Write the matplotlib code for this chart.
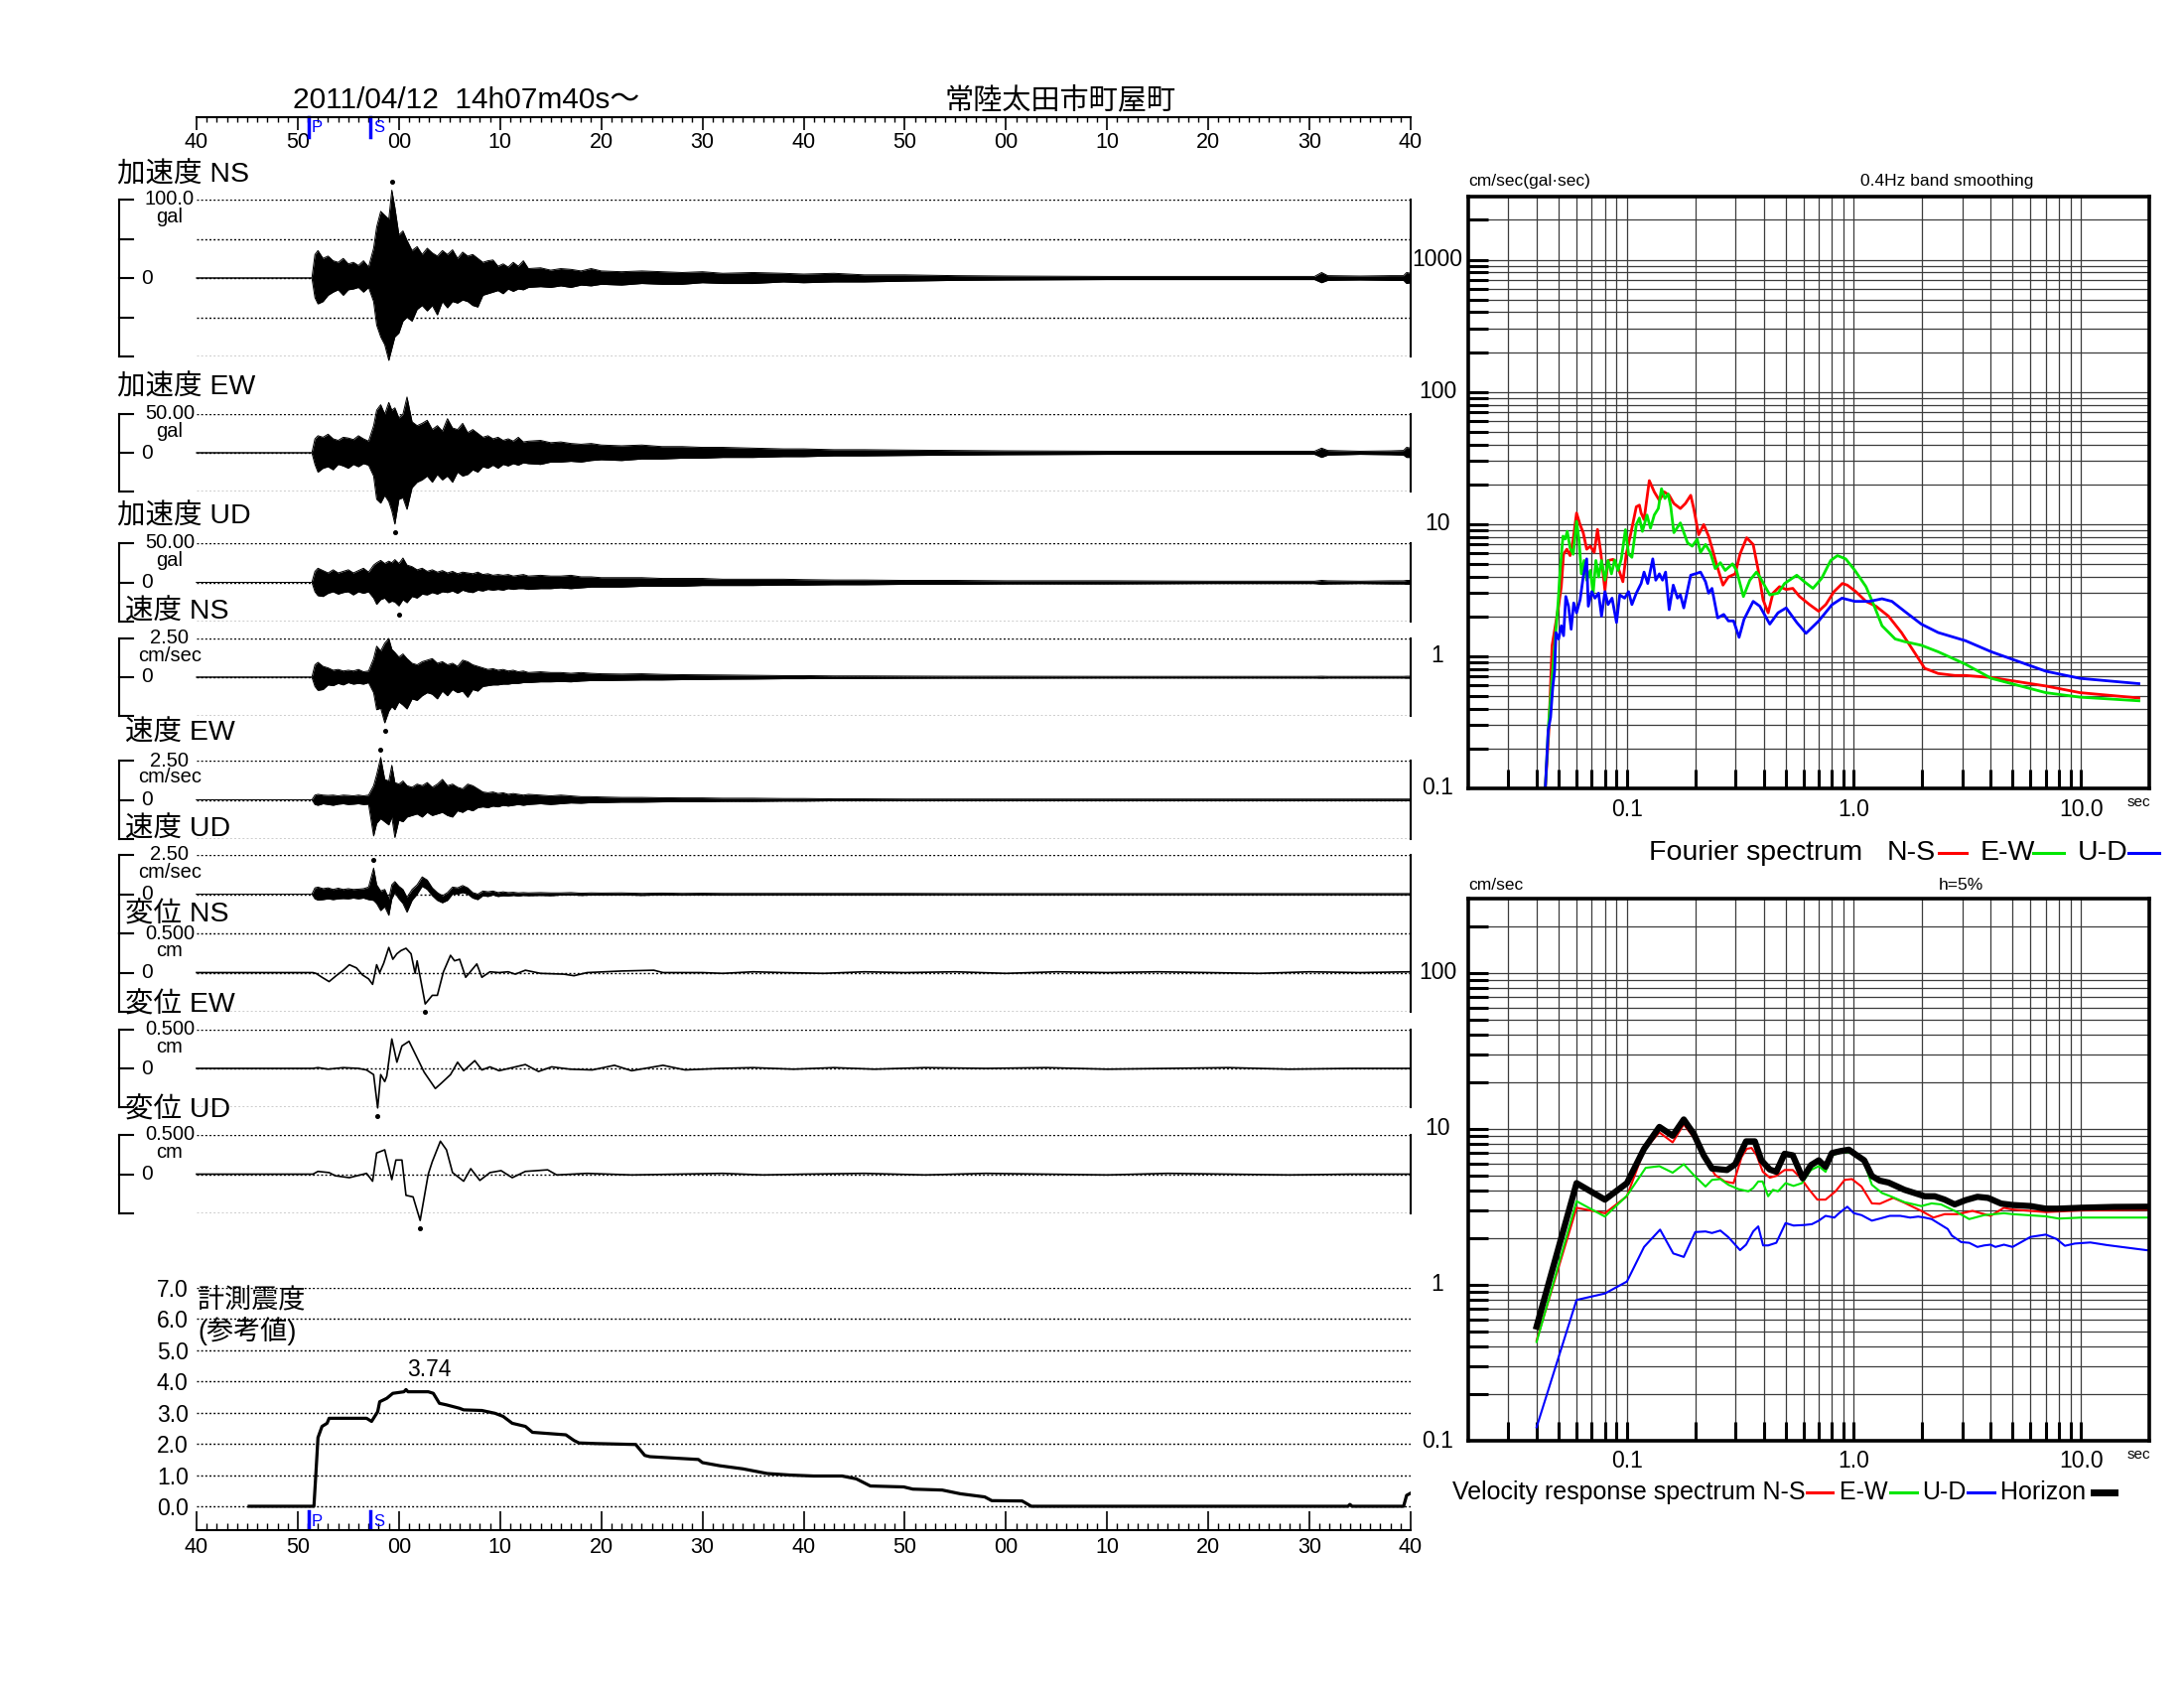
import numpy as np
import matplotlib
matplotlib.use("Agg")
import matplotlib.pyplot as plt
from matplotlib.lines import Line2D
from matplotlib.transforms import offset_copy

plt.rcParams['font.family'] = ['Liberation Sans', 'Noto Sans CJK JP', 'DejaVu Sans']

# ---------------- data ----------------
# time axis: seconds from 14h06m40s, labels every 10 s
time_labels = ["40", "50", "00", "10", "20", "30", "40", "50", "00", "10", "20", "30", "40"]
P_T, S_T = 11.05, 17.2

# common knot times for the acceleration / velocity envelopes (s)
TK = [0, 11.4, 11.7, 12.0, 12.5, 13.0, 13.5, 14.0, 14.5, 15.0, 15.5, 16.0, 16.5, 17.0, 17.5, 17.8, 18.2, 18.6, 19.0, 19.3, 19.6, 20.0, 20.4, 20.8,
      21.3, 21.8, 22.3, 22.8, 23.3, 23.8, 24.3, 24.8, 25.3, 25.8, 26.3, 26.8, 27.3, 27.8, 28.3, 28.8, 29.3, 29.8, 30.3, 30.8, 31.3, 31.8, 32.3, 32.8,
      34, 35, 36, 37, 38, 39, 40,
      42, 44, 46, 48, 50, 52,
      55, 58, 60, 63, 66, 70, 75, 80, 90, 100, 105,
      110.5, 111.2, 111.8, 115, 118, 119.3, 119.6, 120]

acc_ns_up = [0, 0, 30, 35, 25, 28, 22, 20, 25, 18, 20, 16, 22, 14, 38, 65, 85, 80, 75, 112, 90, 55, 60, 48,
             35, 40, 30, 38, 32, 28, 35, 30, 36, 25, 33, 28, 30, 25, 20, 22, 23, 15, 18, 14, 20, 15, 22, 12,
             13, 10, 12, 11, 9, 12, 9,
             8, 9, 8, 7, 8, 6,
             7, 6, 5, 6, 4, 4, 3, 2.5, 2, 2, 2,
             2, 7, 3, 2.5, 3, 3, 7, 6]
acc_ns_lo = [0, 0, -25, -33, -30, -22, -18, -15, -22, -15, -14, -12, -18, -12, -30, -60, -75, -85, -105, -90, -75, -70, -55, -50,
             -55, -40, -35, -42, -35, -47, -30, -38, -30, -32, -28, -30, -35, -37, -22, -20, -18, -16, -20, -14, -17, -14, -15, -12,
             -11, -12, -10, -12, -9, -10, -8,
             -9, -7, -8, -8, -6, -7,
             -7, -5, -6, -5, -5, -4, -3, -2.5, -2, -2, -2,
             -2, -6, -3, -2.5, -3, -3, -7, -6]

acc_ew_up = [0, 0, 18, 22, 20, 24, 18, 16, 20, 19, 17, 22, 18, 15, 35, 55, 62, 50, 65, 55, 58, 45, 50, 72,
             40, 35, 38, 42, 30, 35, 28, 44, 32, 30, 38, 26, 30, 25, 20, 22, 18, 20, 16, 18, 15, 20, 14, 15,
             16, 13, 14, 12, 11, 12, 10,
             9, 10, 8, 8, 7, 7,
             6, 5, 5, 4, 4, 3.5, 3, 2.5, 2, 2, 2,
             2, 6, 3, 2, 2.5, 3, 7, 6]
acc_ew_lo = [0, 0, -15, -25, -20, -18, -22, -15, -17, -20, -15, -18, -14, -16, -30, -60, -65, -55, -63, -75, -92, -60, -58, -73,
             -45, -38, -35, -30, -38, -28, -35, -30, -38, -25, -30, -28, -22, -25, -18, -20, -16, -20, -15, -17, -14, -16, -13, -14,
             -15, -12, -12, -11, -12, -10, -9,
             -10, -8, -8, -7, -7, -6,
             -6, -5, -5, -4, -4, -3.5, -3, -2.5, -2, -2, -2,
             -2, -6, -3, -2, -2.5, -3, -6, -6]

acc_ud_up = [0, 0, 14, 18, 15, 12, 16, 12, 14, 16, 12, 15, 18, 13, 22, 25, 28, 24, 27, 25, 29, 24, 31, 22,
             20, 16, 18, 14, 16, 13, 15, 12, 14, 11, 13, 12, 11, 13, 10, 11, 9, 10, 9, 10, 8, 9, 10, 8,
             9, 8, 8, 9, 7, 7, 6,
             6, 6, 5, 5, 5, 4,
             4, 4, 3.5, 3, 3, 2.5, 2.5, 2, 2, 1.5, 1.5,
             1.5, 2.5, 2, 1.5, 2, 2, 2.5, 2.5]
acc_ud_lo = [0, 0, -12, -17, -18, -14, -12, -15, -13, -12, -16, -12, -14, -12, -20, -28, -22, -20, -26, -24, -25, -30, -22, -26,
             -18, -20, -15, -16, -13, -15, -12, -13, -11, -14, -10, -12, -13, -10, -11, -9, -10, -9, -10, -8, -9, -8, -8, -9,
             -8, -8, -7, -8, -7, -6, -6,
             -6, -5, -5, -5, -4, -4,
             -4, -3.5, -3.5, -3, -3, -2.5, -2.5, -2, -2, -1.5, -1.5,
             -1.5, -2.5, -2, -1.5, -2, -2, -2.5, -2.5]

vel_ns_up = [0, 0, 0.8, 0.96, 0.7, 0.6, 0.45, 0.5, 0.4, 0.45, 0.4, 0.5, 0.35, 0.4, 1.2, 2.0, 1.7, 2.2, 2.5, 1.8, 1.6, 1.3, 1.5, 1.2,
             0.9, 0.8, 1.0, 1.1, 1.2, 0.9, 1.0, 0.8, 0.9, 0.7, 1.1, 1.0, 0.8, 0.7, 0.6, 0.5, 0.55, 0.45, 0.5, 0.4, 0.45, 0.35, 0.4, 0.3,
             0.35, 0.3, 0.3, 0.25, 0.3, 0.25, 0.22,
             0.2, 0.22, 0.18, 0.16, 0.15, 0.14,
             0.12, 0.1, 0.1, 0.08, 0.08, 0.07, 0.06, 0.06, 0.05, 0.05, 0.05,
             0.05, 0.06, 0.05, 0.05, 0.05, 0.05, 0.06, 0.06]
vel_ns_lo = [0, 0, -0.6, -0.85, -0.8, -0.5, -0.55, -0.4, -0.5, -0.35, -0.45, -0.4, -0.45, -0.35, -1.0, -2.1, -2.0, -2.95, -2.2, -1.9, -2.1, -1.6, -1.8, -2.05,
             -1.4, -1.5, -1.2, -1.0, -1.1, -1.4, -0.9, -1.2, -0.8, -1.0, -0.9, -1.3, -0.8, -0.9, -0.6, -0.55, -0.5, -0.5, -0.45, -0.45, -0.4, -0.4, -0.35, -0.35,
             -0.3, -0.3, -0.28, -0.3, -0.25, -0.22, -0.22,
             -0.2, -0.18, -0.18, -0.16, -0.15, -0.13,
             -0.12, -0.1, -0.1, -0.08, -0.08, -0.07, -0.06, -0.06, -0.05, -0.05, -0.05,
             -0.05, -0.06, -0.05, -0.05, -0.05, -0.05, -0.06, -0.06]

vel_ew_up = [0, 0, 0.3, 0.35, 0.3, 0.28, 0.3, 0.25, 0.3, 0.28, 0.25, 0.3, 0.25, 0.3, 0.9, 1.6, 2.7, 1.3, 1.2, 2.2, 1.1, 1.0, 1.2, 0.9,
             0.8, 1.0, 0.9, 1.1, 0.8, 1.0, 1.3, 0.9, 1.0, 0.8, 0.7, 1.0, 0.9, 0.7, 0.5, 0.45, 0.5, 0.4, 0.45, 0.35, 0.4, 0.35, 0.3, 0.35,
             0.3, 0.25, 0.3, 0.25, 0.2, 0.2, 0.18,
             0.15, 0.15, 0.13, 0.12, 0.12, 0.1,
             0.1, 0.08, 0.08, 0.06, 0.06, 0.05, 0.05, 0.05, 0.05, 0.05, 0.05,
             0.05, 0.05, 0.05, 0.05, 0.05, 0.05, 0.05, 0.05]
vel_ew_lo = [0, 0, -0.3, -0.35, -0.25, -0.3, -0.35, -0.28, -0.25, -0.3, -0.28, -0.25, -0.3, -0.28, -2.3, -1.5, -1.2, -1.4, -1.6, -1.1, -2.4, -1.3, -1.4, -1.1,
             -1.0, -0.9, -1.1, -0.8, -1.0, -0.9, -0.8, -1.0, -1.1, -0.7, -0.8, -0.6, -0.7, -0.5, -0.45, -0.5, -0.4, -0.45, -0.35, -0.4, -0.35, -0.3, -0.35, -0.3,
             -0.25, -0.3, -0.25, -0.2, -0.22, -0.18, -0.18,
             -0.15, -0.15, -0.13, -0.12, -0.12, -0.1,
             -0.1, -0.08, -0.08, -0.06, -0.06, -0.05, -0.05, -0.05, -0.05, -0.05, -0.05,
             -0.05, -0.05, -0.05, -0.05, -0.05, -0.05, -0.05, -0.05]

vel_ud_up = [0, 0, 0.4, 0.45, 0.35, 0.4, 0.3, 0.38, 0.3, 0.35, 0.3, 0.32, 0.35, 0.45, 1.66, 0.6, 0.2, 0.3, -0.3, 0.6, 0.8, 0.5, 0.3, -0.2,
             0.3, 0.6, 1.1, 0.9, 0.4, 0.1, -0.1, 0.1, 0.45, 0.4, 0.55, 0.4, 0.1, 0.0, 0.2, 0.15, 0.2, 0.1, 0.15, 0.1, 0.12, 0.08, 0.1, 0.08,
             0.1, 0.08, 0.08, 0.1, 0.06, 0.08, 0.07,
             0.08, 0.05, 0.07, 0.05, 0.06, 0.05,
             0.05, 0.05, 0.05, 0.05, 0.05, 0.05, 0.04, 0.04, 0.04, 0.04, 0.04,
             0.04, 0.04, 0.04, 0.04, 0.04, 0.04, 0.04, 0.04]
vel_ud_lo = [0, 0, -0.3, -0.38, -0.35, -0.3, -0.35, -0.3, -0.28, -0.3, -0.25, -0.3, -0.25, -0.35, -0.4, -0.6, -1.05, -0.8, -1.35, -0.3, 0.1, -0.3, -0.6, -1.15,
             -0.4, 0.0, 0.5, 0.3, -0.1, -0.4, -0.55, -0.4, 0.0, 0.0, 0.1, 0.0, -0.25, -0.35, -0.1, -0.15, -0.05, -0.15, -0.1, -0.12, -0.08, -0.12, -0.08, -0.1,
             -0.08, -0.1, -0.06, -0.05, -0.08, -0.06, -0.06,
             -0.05, -0.08, -0.05, -0.06, -0.05, -0.06,
             -0.05, -0.05, -0.05, -0.05, -0.05, -0.05, -0.04, -0.04, -0.04, -0.04, -0.04,
             -0.04, -0.04, -0.04, -0.04, -0.04, -0.04, -0.04, -0.04]

# displacement traces (cm)
dns_t = [0, 11.5, 11.8, 12.4, 13.1, 13.8, 14.5, 15.1, 15.8, 16.4, 17.0, 17.4, 17.8, 18.1, 18.5, 19.0, 19.4, 19.8, 20.2, 20.7,
         21.2, 21.6, 21.8, 22.6, 23.3, 23.8, 24.4, 25.1, 25.5, 26.0, 26.6, 27.7, 28.2, 29.0, 29.9, 30.8, 31.5, 32.5, 34.0, 36.3,
         37.3, 38.6, 42, 45.2, 46.1, 50, 52, 55, 58, 62, 66, 70, 75, 80, 85, 90, 95, 100, 105, 110, 115, 120]
dns_v = [0, 0, -0.01, -0.06, -0.115, -0.04, 0.03, 0.1, 0.06, -0.03, -0.08, -0.15, 0.1, 0.0, 0.12, 0.32, 0.17, 0.24, 0.28, 0.31,
         0.24, -0.01, 0.15, -0.4, -0.29, -0.29, 0.01, 0.22, 0.15, 0.17, -0.06, 0.11, -0.06, 0.01, 0.0, 0.01, -0.02, 0.03, -0.01, -0.02,
         -0.04, 0.0, 0.02, 0.03, 0.0, 0.0, -0.01, 0.01, 0.0, -0.01, 0.01, 0.0, 0.01, -0.01, 0.01, 0.0, 0.01, 0.0, -0.01, 0.01, 0.0, 0.01]
dew_t = [0, 11.5, 12.0, 13.0, 14.5, 16.0, 16.8, 17.5, 17.9, 18.2, 18.6, 18.8, 19.3, 19.8, 20.3, 21.0, 21.6, 22.5, 23.6, 24.2,
         25.1, 25.8, 26.4, 27.5, 28.2, 29.0, 29.9, 32.5, 33.8, 35.1, 36.9, 39.1, 41.3, 43.0, 46.1, 48.3, 51.7, 55, 59, 63,
         67, 72, 78, 84, 90, 96, 102, 108, 114, 120]
dew_v = [0, 0, 0.01, -0.01, 0.01, 0.0, -0.02, -0.08, -0.51, -0.08, -0.17, -0.1, 0.38, 0.08, 0.29, 0.35, 0.19, -0.05, -0.26, -0.19,
         -0.08, 0.08, -0.03, 0.1, -0.02, 0.02, -0.03, 0.05, -0.04, 0.02, -0.01, -0.02, 0.04, -0.03, 0.04, -0.02, 0.0, 0.01, -0.01, 0.01,
         -0.01, 0.01, 0.0, 0.01, -0.01, 0.0, 0.01, -0.01, 0.0, 0.0]
dud_t = [0, 11.5, 12.0, 13.1, 13.7, 15.1, 16.8, 17.4, 17.8, 18.6, 19.3, 19.7, 20.3, 20.7, 21.4, 22.1, 22.9, 23.3, 24.1, 24.7,
         25.3, 26.4, 27.1, 28.0, 29.0, 30.1, 31.2, 32.5, 34.7, 35.6, 38.6, 43.0, 47.4, 52, 56, 60, 66, 72, 78, 84,
         90, 96, 102, 108, 114, 120]
dud_v = [0, 0, 0.035, 0.02, -0.02, -0.045, 0.01, -0.09, 0.27, 0.31, -0.07, 0.18, 0.18, -0.27, -0.29, -0.59, 0.0, 0.16, 0.42, 0.31,
         0.02, -0.09, 0.07, -0.08, 0.02, 0.045, -0.045, 0.035, 0.055, -0.01, 0.01, -0.01, 0.0, 0.01, -0.01, 0.0, 0.01, -0.01, 0.01, 0.0,
         -0.01, 0.01, 0.0, -0.01, 0.0, 0.0]

# maximum-amplitude markers (time, value) per trace
peak_t = [19.3, 19.6, 20.0, 18.6, 18.2, 17.5, 22.6, 17.9, 22.1]
peak_v = [112, -92, -30, -2.95, 2.7, 1.66, -0.4, -0.51, -0.59]

# seismic intensity (計測震度)
int_t = [5.2, 11.6, 11.8, 12.0, 12.4, 12.9, 13.1, 16.8, 17.3, 17.9, 18.1, 18.8, 19.4, 20.5, 20.7, 20.9, 22.9, 23.4, 24.0, 24.7,
         26.0, 26.4, 28.2, 29.5, 30.3, 31.2, 32.5, 33.2, 36.5, 37.3, 37.8, 39.5, 43.4, 44.3, 44.8, 49.6, 50.0, 51.7, 54.0, 56.4,
         58.7, 61.0, 63.8, 65.2, 66.6, 69.9, 70.8, 73.7, 75.5, 77.9, 78.6, 81.6, 82.5, 113.8, 114.0, 114.2, 119.3, 119.6, 120]
int_v = [0, 0, 1.08, 2.2, 2.56, 2.66, 2.82, 2.82, 2.72, 3.03, 3.35, 3.46, 3.62, 3.67, 3.74, 3.67, 3.67, 3.62, 3.3, 3.25,
         3.14, 3.09, 3.07, 2.98, 2.88, 2.66, 2.56, 2.37, 2.29, 2.11, 2.03, 2.01, 1.98, 1.63, 1.59, 1.5, 1.4, 1.3, 1.2, 1.05,
         1.0, 0.97, 0.97, 0.88, 0.65, 0.62, 0.55, 0.52, 0.40, 0.30, 0.18, 0.17, 0.0, 0.0, 0.06, 0.0, 0.0, 0.35, 0.42]
int_max = 3.74
int_ticks = [0, 1, 2, 3, 4, 5, 6, 7]

# Fourier spectra (period s, cm/sec)
T_ns_f = [0.0437, 0.0453, 0.0468, 0.050, 0.0514, 0.0526, 0.0544, 0.0562, 0.058, 0.060, 0.0622, 0.0642, 0.0665, 0.069, 0.0718,
          0.0742, 0.0767, 0.080, 0.0826, 0.0869, 0.0914, 0.096, 0.0993, 0.1045, 0.110, 0.1135, 0.1155, 0.119, 0.1255, 0.132,
          0.139, 0.146, 0.1535, 0.161, 0.172, 0.181, 0.191, 0.197, 0.207, 0.218, 0.229, 0.237, 0.249, 0.265, 0.28,
          0.30, 0.315, 0.337, 0.36, 0.379, 0.398, 0.419, 0.44, 0.47, 0.503, 0.538, 0.576, 0.637, 0.699, 0.752,
          0.817, 0.889, 0.935, 1.02, 1.13, 1.25, 1.42, 1.62, 1.86, 2.05, 2.35, 2.78, 3.1, 4.03, 7.0, 9.9, 18.0]
A_ns_f = [0.1, 0.275, 1.2, 2.4, 3.36, 5.93, 6.45, 5.77, 7.67, 12.1, 9.87, 8.6, 6.45, 6.8, 6.1,
          9.1, 6.1, 3.17, 5.3, 5.4, 4.7, 3.66, 5.93, 8.8, 13.5, 13.9, 12.1, 10.8, 21.3, 17.5,
          15.1, 17.5, 16.5, 14.3, 13.1, 14.3, 16.5, 13.1, 8.3, 9.9, 8.1, 6.6, 4.86, 3.45, 3.98,
          4.2, 5.93, 7.87, 7.0, 4.46, 2.67, 2.13, 3.0, 3.36, 3.2, 3.26, 2.83, 2.46, 2.19, 2.46,
          3.08, 3.55, 3.45, 3.08, 2.6, 2.39, 2.01, 1.51, 1.05, 0.81, 0.74, 0.715, 0.715, 0.69, 0.595, 0.53, 0.483]
T_ew_f = [0.0437, 0.0452, 0.0468, 0.0484, 0.0497, 0.0509, 0.0523, 0.0535, 0.0546, 0.0562, 0.058, 0.060, 0.0616, 0.063, 0.0648,
          0.0665, 0.069, 0.071, 0.073, 0.075, 0.0773, 0.080, 0.0826, 0.0855, 0.0883, 0.0914, 0.0945, 0.0985, 0.1017, 0.1052,
          0.110, 0.1135, 0.117, 0.1226, 0.127, 0.132, 0.1375, 0.142, 0.147, 0.152, 0.156, 0.161, 0.172, 0.185, 0.194,
          0.204, 0.211, 0.222, 0.233, 0.245, 0.258, 0.271, 0.292, 0.304, 0.326, 0.348, 0.372, 0.385, 0.426, 0.463,
          0.495, 0.56, 0.605, 0.66, 0.72, 0.79, 0.846, 0.92, 1.01, 1.13, 1.23, 1.33, 1.52, 1.67, 1.98,
          2.35, 3.1, 4.03, 7.0, 9.9, 18.0]
A_ew_f = [0.1, 0.31, 0.68, 1.43, 2.45, 4.7, 8.1, 7.7, 8.8, 6.6, 5.9, 10.5, 7.4, 4.2, 5.3,
          3.76, 4.46, 3.0, 5.3, 3.98, 5.3, 3.76, 5.3, 4.2, 5.35, 4.46, 5.45, 9.06, 5.93, 5.6,
          9.9, 11.1, 8.8, 11.7, 9.3, 11.7, 13.1, 18.5, 15.6, 16.9, 13.5, 8.6, 10.2, 7.2, 6.8,
          7.67, 6.1, 7.0, 6.1, 4.6, 5.1, 4.46, 5.0, 4.46, 2.83, 3.76, 4.33, 3.98, 2.91, 3.0,
          3.55, 4.1, 3.66, 3.26, 3.87, 5.3, 5.77, 5.45, 4.46, 3.36, 2.39, 1.7, 1.35, 1.29, 1.21,
          1.08, 0.87, 0.68, 0.53, 0.49, 0.46]
T_ud_f = [0.0437, 0.045, 0.0461, 0.0471, 0.048, 0.0487, 0.050, 0.0514, 0.0526, 0.0538, 0.0553, 0.0568, 0.0583, 0.060, 0.0622,
          0.0642, 0.0665, 0.0676, 0.070, 0.0723, 0.075, 0.0773, 0.080, 0.0826, 0.086, 0.090, 0.093, 0.0977, 0.1017, 0.1052,
          0.110, 0.1155, 0.119, 0.1235, 0.130, 0.134, 0.139, 0.1435, 0.148, 0.1535, 0.160, 0.167, 0.172, 0.178, 0.191,
          0.2, 0.211, 0.222, 0.229, 0.237, 0.251, 0.267, 0.28, 0.295, 0.312, 0.328, 0.36, 0.385, 0.426, 0.463,
          0.503, 0.56, 0.615, 0.70, 0.80, 0.886, 1.01, 1.17, 1.33, 1.47, 1.67, 1.98, 2.35, 3.1, 4.03,
          7.0, 9.9, 18.0]
A_ud_f = [0.1, 0.275, 0.345, 0.576, 0.765, 1.51, 1.35, 1.7, 1.43, 2.83, 2.39, 1.6, 2.53, 2.13, 2.67,
          3.98, 5.45, 2.39, 3.08, 2.75, 3.0, 2.01, 3.08, 2.46, 2.75, 1.8, 2.91, 2.75, 3.08, 2.46,
          3.0, 3.55, 4.33, 3.55, 5.45, 3.76, 4.2, 3.76, 4.33, 2.25, 3.45, 2.75, 2.91, 2.32, 4.1,
          4.2, 4.33, 3.66, 3.0, 3.26, 1.95, 2.07, 1.85, 1.85, 1.39, 1.9, 2.6, 2.39, 1.75, 2.13,
          2.32, 1.8, 1.49, 1.85, 2.45, 2.75, 2.6, 2.6, 2.72, 2.6, 2.19, 1.75, 1.51, 1.31, 1.08,
          0.77, 0.68, 0.62]

# velocity response spectra, h=5% (period s, cm/sec)
T_h = [0.04, 0.06, 0.08, 0.1, 0.119, 0.139, 0.159, 0.178, 0.197, 0.218, 0.237, 0.276, 0.3, 0.335, 0.366, 0.391,
       0.426, 0.455, 0.495, 0.538, 0.595, 0.646, 0.70, 0.75, 0.80, 0.87, 0.95, 1.03, 1.11, 1.20, 1.30, 1.42,
       1.67, 2.05, 2.27, 2.51, 2.78, 3.1, 3.5, 3.9, 4.45, 5.0, 6.0, 7.0, 8.0, 10.0, 14.0, 20.0]
A_h = [0.54, 4.49, 3.52, 4.49, 7.45, 10.3, 9.04, 11.5, 9.3, 6.76, 5.57, 5.45, 5.94, 8.32, 8.32, 6.29,
       5.49, 5.31, 6.93, 6.77, 4.82, 5.85, 6.29, 5.72, 7.0, 7.2, 7.36, 6.77, 6.29, 4.99, 4.66, 4.53,
       4.07, 3.70, 3.70, 3.52, 3.28, 3.49, 3.67, 3.61, 3.32, 3.25, 3.2, 3.08, 3.08, 3.12, 3.16, 3.17]
T_ns_r = [0.04, 0.06, 0.08, 0.1, 0.119, 0.139, 0.159, 0.178, 0.197, 0.218, 0.245, 0.27, 0.295, 0.32, 0.337,
          0.354, 0.373, 0.397, 0.426, 0.455, 0.495, 0.538, 0.585, 0.636, 0.69, 0.75, 0.83, 0.91, 0.98, 1.08,
          1.20, 1.30, 1.49, 1.67, 1.98, 2.24, 2.51, 2.86, 3.33, 4.0, 4.58, 5.0, 7.0, 10.0, 20.0]
A_ns_r = [0.44, 3.12, 2.88, 3.7, 7.3, 9.5, 8.2, 10.7, 8.8, 6.6, 5.06, 4.6, 4.49, 6.6, 7.45,
          7.55, 6.77, 5.31, 4.87, 5.0, 5.45, 5.45, 4.82, 4.07, 3.52, 3.52, 3.98, 4.71, 4.77, 4.27,
          3.33, 3.31, 3.61, 3.36, 2.98, 2.70, 2.84, 2.84, 2.98, 2.77, 3.12, 3.04, 2.93, 3.0, 3.04]
T_ew_r = [0.04, 0.06, 0.08, 0.1, 0.121, 0.139, 0.159, 0.178, 0.197, 0.222, 0.237, 0.258, 0.28, 0.31, 0.343,
          0.36, 0.379, 0.396, 0.419, 0.44, 0.463, 0.5, 0.542, 0.59, 0.646, 0.70, 0.75, 0.80, 0.886, 0.95,
          1.03, 1.11, 1.20, 1.33, 1.47, 1.67, 1.98, 2.2, 2.42, 2.78, 3.22, 3.75, 4.58, 5.0, 7.0, 8.0, 10.0, 20.0]
A_ew_r = [0.43, 3.44, 2.74, 3.73, 5.63, 5.77, 5.24, 5.94, 5.06, 4.27, 4.71, 4.77, 4.38, 4.11, 3.98,
          4.18, 4.6, 4.6, 3.7, 4.07, 3.98, 4.49, 4.31, 4.49, 5.45, 5.77, 5.31, 6.77, 7.1, 7.1,
          6.77, 6.1, 4.38, 3.88, 3.67, 3.39, 3.2, 3.33, 3.28, 2.98, 2.64, 2.8, 2.88, 2.84, 2.75, 2.66, 2.7, 2.7]
T_ud_r = [0.04, 0.06, 0.08, 0.1, 0.119, 0.14, 0.16, 0.178, 0.2, 0.222, 0.237, 0.258, 0.28, 0.315, 0.335,
          0.36, 0.379, 0.398, 0.419, 0.455, 0.5, 0.542, 0.605, 0.653, 0.70, 0.75, 0.82, 0.86, 0.935, 1.0,
          1.08, 1.2, 1.3, 1.44, 1.6, 1.77, 1.92, 2.05, 2.2, 2.39, 2.59, 2.7, 2.97, 3.22, 3.5,
          3.75, 4.0, 4.2, 4.58, 5.0, 6.0, 7.0, 7.8, 8.5, 9.4, 11.0, 13.0, 20.0]
A_ud_r = [0.122, 0.80, 0.88, 1.05, 1.75, 2.26, 1.59, 1.51, 2.18, 2.2, 2.15, 2.23, 2.02, 1.67, 1.81,
          2.2, 2.37, 1.79, 1.79, 1.86, 2.49, 2.4, 2.42, 2.45, 2.58, 2.77, 2.7, 2.88, 3.17, 2.88,
          2.8, 2.58, 2.66, 2.77, 2.77, 2.7, 2.74, 2.7, 2.64, 2.45, 2.28, 2.07, 1.88, 1.86, 1.75,
          1.79, 1.81, 1.75, 1.81, 1.75, 2.03, 2.1, 1.97, 1.78, 1.84, 1.87, 1.8, 1.66]

RED, GREEN, BLUE = "#ff0000", "#00e600", "#0000ff"

# ---------------- figure ----------------
W, H = 2200, 1700
fig = plt.figure(figsize=(22, 17), dpi=100)


def box(left, top, right, bottom):
    # axes placed by pixel edges (top-left origin)
    return fig.add_axes([left / W, 1 - bottom / H, (right - left) / W, (bottom - top) / H])


def ftext(x, y, s, **kw):
    kw.setdefault("va", "center")
    return fig.text(x / W, 1 - y / H, s, **kw)


def fline(x0, x1, y, color, lw):
    fig.add_artist(Line2D([x0 / W, x1 / W], [1 - y / H, 1 - y / H], color=color, lw=lw,
                          transform=fig.transFigure))


X0, X1 = 198, 1421
DOT = (0, (1.4, 1.6))

# header
ftext(295, 101, "2011/04/12  14h07m40s〜", fontsize=21.5)
ftext(951, 101, "常陸太田市町屋町", fontsize=21)

# top time axis
ax_top = box(X0, 80, X1, 118)
ax_top.set_xlim(0, 120)
for k in ["top", "left", "right"]:
    ax_top.spines[k].set_visible(False)
ax_top.spines["bottom"].set_linewidth(1.5)
ax_top.set_yticks([])
ax_top.set_xticks(range(0, 121, 10))
ax_top.set_xticks(range(0, 121), minor=True)
ax_top.set_xticklabels(time_labels, fontsize=15.5)
ax_top.tick_params(axis="x", which="major", direction="out", length=9, width=1.2, pad=1.5)
ax_top.tick_params(axis="x", which="minor", direction="out", length=3.6, width=1.0)
ax_top.patch.set_alpha(0)
for tt, lab in [(P_T, "P"), (S_T, "S")]:
    ax_top.plot([tt, tt], [0, -0.53], color=BLUE, lw=2.5, transform=ax_top.get_xaxis_transform(), clip_on=False)
    ax_top.text(tt + 0.25, -0.27, lab, color=BLUE, fontsize=12, ha="left", va="center",
                transform=ax_top.get_xaxis_transform())

# waveform panels
panels = [
    ("加速度 NS", "100.0", "gal", 118, 176, 201, 359, 100),
    ("加速度 EW", "50.00", "gal", 118, 390, 417, 495, 50),
    ("加速度 UD", "50.00", "gal", 118, 520, 547, 626, 50),
    ("速度 NS", "2.50", "cm/sec", 126, 617, 643, 721, 2.5),
    ("速度 EW", "2.50", "cm/sec", 126, 739, 766, 845, 2.5),
    ("速度 UD", "2.50", "cm/sec", 126, 836, 861, 940, 2.5),
    ("変位 NS", "0.500", "cm", 126, 921, 940, 1019, 0.5),
    ("変位 EW", "0.500", "cm", 126, 1012, 1037, 1115, 0.5),
    ("変位 UD", "0.500", "cm", 126, 1118, 1143, 1222, 0.5),
]
bands = [(acc_ns_up, acc_ns_lo), (acc_ew_up, acc_ew_lo), (acc_ud_up, acc_ud_lo),
         (vel_ns_up, vel_ns_lo), (vel_ew_up, vel_ew_lo), (vel_ud_up, vel_ud_lo)]
lines = [(dns_t, dns_v), (dew_t, dew_v), (dud_t, dud_v)]

xb = (120 - X0) / (X1 - X0)
xt = (134 - X0) / (X1 - X0)
for i, (name, top_lab, unit, lx, ly, top, bot, lim) in enumerate(panels):
    ax = box(X0, top, X1, bot)
    ax.set_xlim(0, 120)
    ax.set_ylim(-lim, lim)
    ax.axis("off")
    levels = [-lim, -lim / 2, 0, lim / 2, lim] if i == 0 else [-lim, 0, lim]
    for v in levels:
        ax.axhline(v, color="k", lw=1.0, ls=DOT)
    ax.plot([120, 120], [-lim, lim], color="k", lw=1.5, clip_on=False)
    tr = ax.get_yaxis_transform()
    ax.plot([xb, xb], [-lim, lim], color="k", lw=1.5, transform=tr, clip_on=False)
    for v in levels:
        ax.plot([xb, xt], [v, v], color="k", lw=1.5, transform=tr, clip_on=False)

    if i < 6:
        up, lo = bands[i]
        ax.fill_between(TK, lo, up, color="k", lw=0, clip_on=False)
        ax.plot(TK, up, color="k", lw=0.7, clip_on=False)
        ax.plot(TK, lo, color="k", lw=0.7, clip_on=False)
    else:
        t, v = lines[i - 6]
        ax.plot(t, v, color="k", lw=1.2, clip_on=False)

    pv = peak_v[i]
    off = offset_copy(ax.transData, fig=fig, x=0, y=6 if pv > 0 else -6, units="points")
    ax.plot([peak_t[i]], [pv], "o", color="k", ms=2.6, transform=off, clip_on=False)

    ftext(lx, ly, name, fontsize=20.5, ha="left")
    ftext(171, top, top_lab, fontsize=14.5, ha="center")
    ftext(171, top + 17, unit, fontsize=14.5, ha="center")
    ftext(148, (top + bot) / 2, "0", fontsize=15, ha="center")

# intensity panel + bottom time axis
ax_i = box(X0, 1297, X1, 1541)
ax_i.set_xlim(0, 120)
ax_i.set_ylim(-0.764, 7.0)
for k in ["top", "left", "right"]:
    ax_i.spines[k].set_visible(False)
ax_i.spines["bottom"].set_linewidth(1.5)
for v in int_ticks:
    ax_i.axhline(v, color="k", lw=1.0, ls=DOT)
ax_i.set_yticks(int_ticks)
ax_i.set_yticklabels([f"{v:.1f}" for v in int_ticks], fontsize=16.5)
ax_i.tick_params(axis="y", length=0, pad=6)
ax_i.set_xticks(range(0, 121, 10))
ax_i.set_xticks(range(0, 121), minor=True)
ax_i.set_xticklabels(time_labels, fontsize=15.5)
ax_i.tick_params(axis="x", which="major", direction="in", length=13.7, width=1.2, pad=5)
ax_i.tick_params(axis="x", which="minor", direction="in", length=5, width=1.0)
ax_i.plot(int_t, int_v, color="k", lw=2.3)
ax_i.text(23.0, 4.39, f"{int_max:.2f}", fontsize=16.5, ha="center", va="center")
for tt, lab in [(P_T, "P"), (S_T, "S")]:
    ax_i.plot([tt, tt], [0, 0.078], color=BLUE, lw=2.5, transform=ax_i.get_xaxis_transform())
    ax_i.text(tt + 0.25, 0.035, lab, color=BLUE, fontsize=12, ha="left", va="center",
              transform=ax_i.get_xaxis_transform())
ftext(199, 1310, "計測震度", fontsize=19.5, ha="left")
ftext(199, 1341, "(参考値)", fontsize=19.5, ha="left")


# spectrum panels
def spectrum_panel(top, bottom, ymax, ylabels):
    ax = box(1479, top, 2165, bottom)
    ax.set_xscale("log")
    ax.set_yscale("log")
    ax.set_xlim(0.02, 20)
    ax.set_ylim(0.1, ymax)
    hpx = bottom - top
    for s in ax.spines.values():
        s.set_linewidth(2.6)
        s.set_zorder(5)
    ax.minorticks_off()
    ax.tick_params(which="both", length=0, labelleft=False, labelbottom=False)
    gx = [m * d for d in (0.01, 0.1, 1.0) for m in range(1, 10) if m * d > 0.0201] + [10.0]
    gy = [m * d for d in (0.1, 1, 10, 100, 1000) for m in range(1, 10) if m * d < ymax * 0.99]
    for x in gx:
        ax.axvline(x, color="#3c3c3c", lw=0.9, zorder=1)
    for y in gy:
        ax.axhline(y, color="#3c3c3c", lw=0.9, zorder=1)
    ax.vlines(gx, 0, 19 / hpx, transform=ax.get_xaxis_transform(), color="k", lw=2.2, zorder=2)
    ax.hlines(gy, 0, 20 / 686, transform=ax.get_yaxis_transform(), color="k", lw=2.2, zorder=2)
    for x, s in [(0.1, "0.1"), (1.0, "1.0"), (10.0, "10.0")]:
        ax.text(x, -21 / hpx, s, transform=ax.get_xaxis_transform(), ha="center", va="center", fontsize=16.5)
    for y, s in ylabels:
        ax.text(-31 / 686, y, s, transform=ax.get_yaxis_transform(), ha="center", va="center", fontsize=16.5)
    return ax


ax_f = spectrum_panel(198, 794, 3000, [(0.1, "0.1"), (1, "1"), (10, "10"), (100, "100"), (1000, "1000")])
ax_f.plot(T_ns_f, A_ns_f, color=RED, lw=2.0, zorder=3)
ax_f.plot(T_ew_f, A_ew_f, color=GREEN, lw=2.0, zorder=3)
ax_f.plot(T_ud_f, A_ud_f, color=BLUE, lw=2.0, zorder=3)
ftext(1479, 182, "cm/sec(gal·sec)", fontsize=12.5, ha="left")
ftext(1874, 182, "0.4Hz band smoothing", fontsize=12.5, ha="left")
ftext(2154, 808, "sec", fontsize=11, ha="center")

ftext(1661, 859, "Fourier spectrum", fontsize=20.5, ha="left")
ftext(1901, 859, "N-S", fontsize=20.5, ha="left")
fline(1953, 1981, 859, RED, 2.2)
ftext(1995, 859, "E-W", fontsize=20.5, ha="left")
fline(2048, 2079, 859, GREEN, 2.2)
ftext(2093, 859, "U-D", fontsize=20.5, ha="left")
fline(2144, 2175, 859, BLUE, 2.2)

ax_r = spectrum_panel(905, 1451, 300, [(0.1, "0.1"), (1, "1"), (10, "10"), (100, "100")])
ax_r.plot(T_ns_r, A_ns_r, color=RED, lw=1.5, zorder=3)
ax_r.plot(T_ew_r, A_ew_r, color=GREEN, lw=1.5, zorder=3)
ax_r.plot(T_ud_r, A_ud_r, color=BLUE, lw=1.5, zorder=3)
ax_r.plot(T_h, A_h, color="k", lw=4.5, zorder=4)
ftext(1479, 891, "cm/sec", fontsize=12.5, ha="left")
ftext(1953, 891, "h=5%", fontsize=12.5, ha="left")
ftext(2154, 1465, "sec", fontsize=11, ha="center")

ftext(1463, 1503, "Velocity response spectrum N-S", fontsize=18, ha="left")
fline(1820, 1846, 1503, RED, 2.2)
ftext(1853, 1503, "E-W", fontsize=18, ha="left")
fline(1904, 1931, 1503, GREEN, 2.2)
ftext(1936, 1503, "U-D", fontsize=18, ha="left")
fline(1982, 2009, 1503, BLUE, 2.2)
ftext(2015, 1503, "Horizon", fontsize=18, ha="left")
fline(2109, 2130, 1503, "k", 5)

fig.savefig("out.png", dpi=100)
